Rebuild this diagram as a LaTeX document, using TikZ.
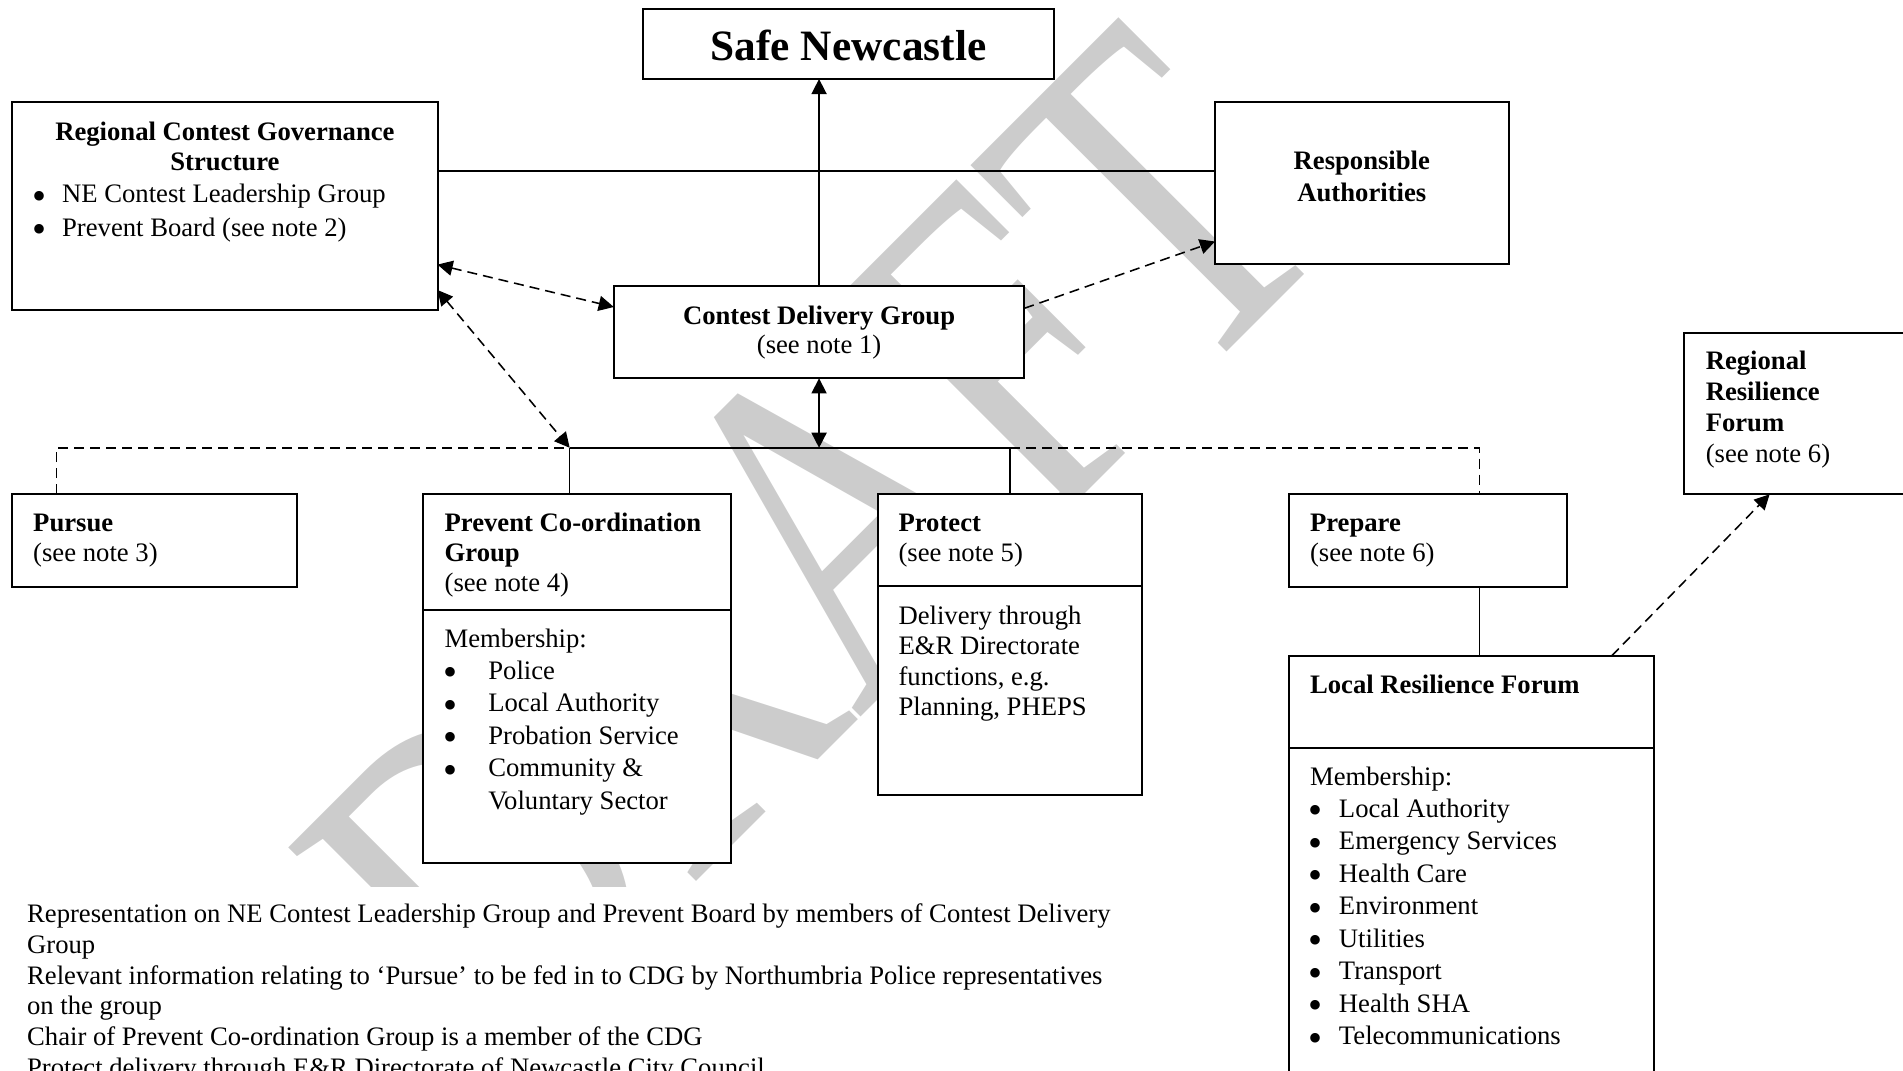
\documentclass[tikz,border=0pt]{standalone}
\usepackage{fontspec}
\setmainfont{Liberation Serif}
\usepackage{graphicx}
\usetikzlibrary{arrows.meta}
\newcommand{\pxu}{0.45pt}
\tikzset{
  boxn/.style={draw, line width=0.9pt, fill=white, inner sep=0pt, outer sep=0pt, anchor=north west},
  conn/.style={line width=0.7pt},
  dsh/.style={conn, dash pattern=on 4.5pt off 2.7pt},
  >={Triangle[length=6.8pt,width=6.8pt]},
  tx/.style={anchor=base west, inner sep=0pt, font=\fontsize{12pt}{14pt}\selectfont},
  txb/.style={tx, font=\fontsize{12pt}{14pt}\selectfont\bfseries},
  txc/.style={tx, anchor=base},
  txbc/.style={txb, anchor=base},
  bul/.style={anchor=base west, inner sep=0pt, font=\fontsize{18pt}{18pt}\selectfont},
}
\newcommand{\bigbul}{\raisebox{-3pt}{\textbullet}}
\begin{document}
\begin{tikzpicture}[x=0.45pt,y=-0.45pt]
\useasboundingbox (0,0) rectangle (1903,1070);
% watermark
\node[rotate=45, text=gray!40, inner sep=0pt] (wm) at (812,544)
  {\scalebox{0.76}[1]{\fontsize{215pt}{215pt}\selectfont DRAFT}};
\fill[white] (0,887) rectangle (1160,1080);

% boxes
\node[boxn, minimum width=410.4*\pxu, minimum height=69.7*\pxu] (safe) at (643.3,9.3) {};
\node[boxn, minimum width=425.2*\pxu, minimum height=208*\pxu] (rcgs) at (12.3,102) {};
\node[boxn, minimum width=293.6*\pxu, minimum height=162.3*\pxu] (ra) at (1215,101.7) {};
\node[boxn, minimum width=410.5*\pxu, minimum height=92.3*\pxu] (cdg) at (613.8,286) {};
\node[boxn, minimum width=236*\pxu, minimum height=161.6*\pxu] (rrf) at (1684,332.7) {};
\node[boxn, minimum width=284.9*\pxu, minimum height=92.7*\pxu] (pursue) at (12.1,494) {};
\node[boxn, minimum width=307.3*\pxu, minimum height=369*\pxu] (pcg) at (423.2,494) {};
\node[boxn, minimum width=264.4*\pxu, minimum height=300.5*\pxu] (protect) at (877.6,494) {};
\node[boxn, minimum width=278.3*\pxu, minimum height=92.7*\pxu] (prepare) at (1288.5,494) {};
\node[boxn, minimum width=365.9*\pxu, minimum height=430*\pxu] (lrf) at (1288.5,655.7) {};

% dividers
\coordinate (dP) at (0,610);
\coordinate (dQ) at (0,586.2);
\coordinate (dR) at (0,748);
\draw[line width=0.9pt] (pcg.west |- dP) -- (pcg.east |- dP);
\draw[line width=0.9pt] (protect.west |- dQ) -- (protect.east |- dQ);
\draw[line width=0.9pt] (lrf.west |- dR) -- (lrf.east |- dR);

% connector points
\coordinate (hA) at (0,171);
\coordinate (hB) at (0,264.6);
\coordinate (hC) at (0,307);
\coordinate (hD) at (0,290);
\coordinate (hE) at (0,308.3);
\coordinate (hF) at (0,241.5);
\coordinate (bl) at (56.4,447.8);
\coordinate (jL) at (569.7,447.8);
\coordinate (jP) at (1010,447.8);
\coordinate (br) at (1479.3,447.8);
\coordinate (vL) at (1611.8,0);
\coordinate (vR) at (1769.6,0);

% connectors
\draw[conn,->] (cdg.north) -- (cdg.north |- safe.south);
\draw[conn] (rcgs.east |- hA) -- (ra.west |- hA);
\draw[dsh,<->] (rcgs.east |- hB) -- (cdg.west |- hC);
\draw[dsh,<->] (rcgs.east |- hD) -- (jL);
\draw[dsh,->] (cdg.east |- hE) -- (ra.west |- hF);
\draw[conn,<->] (cdg.south) -- (cdg.south |- bl);
\draw[conn] (jL) -- (jP);
\draw[dsh] (pursue.north -| bl) -- (bl) -- (jL);
\draw[conn] (pcg.north -| jL) -- (jL);
\draw[conn] (protect.north -| jP) -- (jP);
\draw[dsh] (jP) -- (br) -- (prepare.north -| br);
\draw[conn] (prepare.south -| br) -- (lrf.north -| br);
\draw[dsh,->] (lrf.north -| vL) -- (rrf.south -| vR);

% texts
\node[txbc, font=\fontsize{19.5pt}{22pt}\selectfont\bfseries] (tsafe) at (848.5,60) {Safe Newcastle};

\node[txbc] (tr1) at (224.9,140.5) {Regional Contest Governance};
\node[txbc] (tr2) at (224.9,170.5) {Structure};
\node[bul] (tr3b) at (32.3,202.5) {\bigbul};
\node[tx] (tr3) at (61.7,202.5) {NE Contest Leadership Group};
\node[bul] (tr4b) at (32.3,236) {\bigbul};
\node[tx] (tr4) at (61.7,236) {Prevent Board (see note 2)};

\node[txbc] (ta1) at (1361.8,169.2) {Responsible};
\node[txbc] (ta2) at (1361.8,201.8) {Authorities};

\node[txbc] (tc1) at (819.05,324.2) {Contest Delivery Group};
\node[txc] (tc2) at (819.05,353.5) {(see note 1)};

\node[txb] (tf1) at (1705.3,369.5) {Regional};
\node[txb] (tf2) at (1705.3,400.5) {Resilience};
\node[txb] (tf3) at (1705.3,431.5) {Forum};
\node[tx] (tf4) at (1705.3,462.5) {(see note 6)};

\node[txb] (tu1) at (32.8,531.8) {Pursue};
\node[tx] (tu2) at (32.8,561.8) {(see note 3)};

\node[txb] (tp1) at (444.2,531.8) {Prevent Co-ordination};
\node[txb] (tp2) at (444.2,561.8) {Group};
\node[tx] (tp3) at (444.2,591.8) {(see note 4)};
\node[tx] (tp4) at (444.2,647.5) {Membership:};
\node[bul] (tp5b) at (443,679.2) {\bigbul};
\node[tx] (tp5) at (487.9,679.2) {Police};
\node[bul] (tp6b) at (443,711.7) {\bigbul};
\node[tx] (tp6) at (487.9,711.7) {Local Authority};
\node[bul] (tp7b) at (443,744.2) {\bigbul};
\node[tx] (tp7) at (487.9,744.2) {Probation Service};
\node[bul] (tp8b) at (443,776.7) {\bigbul};
\node[tx] (tp8) at (487.9,776.7) {Community \&};
\node[tx] (tp9) at (487.9,809.2) {Voluntary Sector};

\node[txb] (tq1) at (898.1,531.8) {Protect};
\node[tx] (tq2) at (898.1,561.8) {(see note 5)};
\node[tx] (tq3) at (898.1,624.2) {Delivery through};
\node[tx] (tq4) at (898.1,654.7) {E\&R Directorate};
\node[tx] (tq5) at (898.1,685.2) {functions, e.g.};
\node[tx] (tq6) at (898.1,715.7) {Planning, PHEPS};

\node[txb] (te1) at (1309.6,531.8) {Prepare};
\node[tx] (te2) at (1309.6,561.8) {(see note 6)};

\node[txb] (tl1) at (1309.6,693.2) {Local Resilience Forum};
\node[tx] (tl2) at (1309.6,785.8) {Membership:};
\node[bul] (tl3b) at (1308,817.2) {\bigbul};
\node[tx] (tl3) at (1338.5,817.2) {Local Authority};
\node[bul] (tl4b) at (1308,849.7) {\bigbul};
\node[tx] (tl4) at (1338.5,849.7) {Emergency Services};
\node[bul] (tl5b) at (1308,882.2) {\bigbul};
\node[tx] (tl5) at (1338.5,882.2) {Health Care};
\node[bul] (tl6b) at (1308,914.7) {\bigbul};
\node[tx] (tl6) at (1338.5,914.7) {Environment};
\node[bul] (tl7b) at (1308,947.2) {\bigbul};
\node[tx] (tl7) at (1338.5,947.2) {Utilities};
\node[bul] (tl8b) at (1308,979.7) {\bigbul};
\node[tx] (tl8) at (1338.5,979.7) {Transport};
\node[bul] (tl9b) at (1308,1012.2) {\bigbul};
\node[tx] (tl9) at (1338.5,1012.2) {Health SHA};
\node[bul] (tl10b) at (1308,1044.7) {\bigbul};
\node[tx] (tl10) at (1338.5,1044.7) {Telecommunications};

\node[tx] (n1) at (26.7,922.5) {Representation on NE Contest Leadership Group and Prevent Board by members of Contest Delivery};
\node[tx] (n2) at (26.7,953) {Group};
\node[tx] (n3) at (26.7,984) {Relevant information relating to ‘Pursue’ to be fed in to CDG by Northumbria Police representatives};
\node[tx] (n4) at (26.7,1014.5) {on the group};
\node[tx] (n5) at (26.7,1045.5) {Chair of Prevent Co-ordination Group is a member of the CDG};
\node[tx] (n6) at (26.7,1076.5) {Protect delivery through E\&R Directorate of Newcastle City Council};
\end{tikzpicture}
\end{document}
